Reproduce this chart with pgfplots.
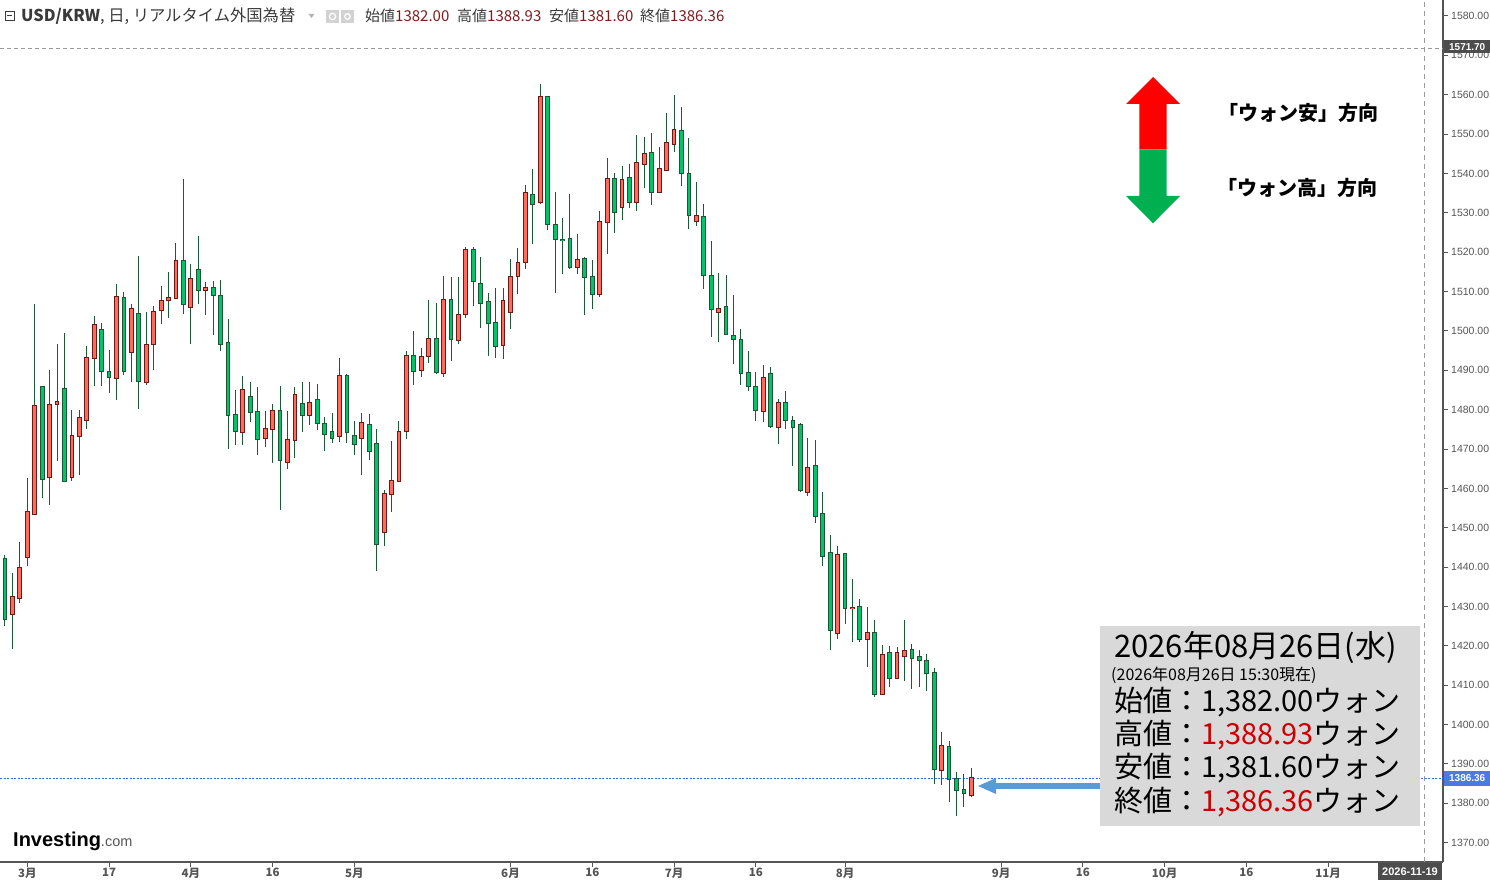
\documentclass[border=0pt]{standalone}
\usepackage{fontspec}
\setmainfont{Noto Sans CJK JP}
\newfontfamily\lib{Liberation Sans}
\usepackage{pgfplots}
\pgfplotsset{compat=1.18}
\usepackage{pgfplotstable}
\definecolor{upfill}{HTML}{FF6A5C}
\definecolor{upedge}{HTML}{6E1A14}
\definecolor{dnfill}{HTML}{00C46A}
\definecolor{dnedge}{HTML}{1E5535}
\definecolor{wick}{HTML}{1B5A34}
\definecolor{axisgray}{HTML}{555555}
\definecolor{lblgray}{HTML}{555555}
\definecolor{hdrred}{HTML}{7B1D1D}
\definecolor{hdrtxt}{HTML}{3A3A3A}
\definecolor{boxgray}{HTML}{D9D9D9}
\definecolor{arrowblue}{HTML}{5B9BD5}
\definecolor{priceblue}{HTML}{4A7BE0}
\definecolor{dashblue}{HTML}{3366FF}
\definecolor{darklbl}{HTML}{4D4D4D}
\definecolor{numred}{HTML}{CC0000}
\definecolor{arrred}{HTML}{FF0000}
\definecolor{arrgreen}{HTML}{00B050}

% trading day index i (0 = 2 Mar 2026), open, high, low, close
\pgfplotstableread{
i O H L C
-2 1428.0 1438.5 1419.1 1432.3
-1 1432.1 1446.4 1430.8 1439.9
0 1442.7 1462.6 1440.4 1453.9
1 1453.6 1506.9 1453.6 1481.0
3 1462.8 1490.2 1455.8 1481.3
4 1481.5 1496.6 1467.0 1482.0
6 1462.8 1479.8 1461.9 1473.4
7 1473.4 1479.8 1463.4 1478.0
8 1477.5 1496.1 1475.1 1493.2
9 1493.2 1503.7 1486.0 1501.6
12 1488.1 1512.0 1482.4 1508.7
14 1494.7 1506.9 1487.1 1505.6
16 1487.1 1504.9 1486.3 1496.5
17 1496.7 1506.4 1490.1 1504.9
18 1505.4 1511.5 1501.7 1507.6
19 1507.9 1515.0 1503.3 1508.4
20 1508.4 1522.4 1508.4 1517.8
22 1506.1 1517.0 1496.7 1513.2
24 1510.4 1512.5 1504.0 1510.9
29 1474.4 1488.6 1471.1 1485.1
32 1472.9 1479.7 1470.5 1475.2
33 1475.2 1481.5 1466.5 1479.7
35 1466.6 1479.7 1465.0 1472.2
36 1472.4 1485.8 1467.6 1483.8
38 1478.7 1486.9 1476.2 1481.8
42 1473.2 1493.2 1471.9 1488.6
45 1472.9 1479.2 1463.3 1476.5
48 1448.8 1459.5 1445.3 1458.7
49 1458.7 1472.0 1454.1 1462.0
50 1462.0 1477.0 1462.0 1474.4
51 1474.7 1495.0 1472.6 1493.7
53 1490.2 1495.7 1488.4 1493.4
54 1493.7 1507.9 1491.9 1498.0
56 1489.4 1514.0 1488.4 1507.9
58 1497.7 1513.7 1496.7 1504.1
59 1504.3 1521.3 1503.3 1520.6
64 1496.5 1510.9 1492.9 1507.6
65 1504.8 1518.3 1500.5 1513.7
66 1514.0 1521.1 1509.4 1517.3
67 1517.5 1537.0 1515.7 1535.0
69 1532.7 1562.7 1532.2 1559.4
74 1516.2 1524.6 1514.5 1518.0
77 1509.4 1530.5 1508.6 1527.7
78 1527.7 1543.9 1519.5 1538.6
80 1531.5 1541.9 1528.1 1538.3
82 1532.8 1549.8 1530.5 1542.7
83 1542.4 1549.3 1536.3 1544.9
85 1535.3 1546.7 1535.0 1541.1
86 1540.9 1555.3 1540.6 1547.7
87 1547.5 1559.9 1545.4 1551.0
90 1527.9 1537.8 1526.7 1529.2
93 1504.9 1514.8 1497.3 1505.6
99 1479.7 1491.4 1476.9 1488.1
101 1475.7 1482.8 1471.4 1481.8
105 1459.2 1472.7 1458.0 1465.3
109 1423.2 1445.3 1421.7 1443.0
111 1429.5 1437.1 1421.1 1429.7
113 1421.7 1430.0 1414.7 1423.2
115 1407.9 1420.1 1407.9 1417.8
117 1411.8 1419.6 1411.5 1418.1
118 1417.4 1426.5 1411.0 1418.6
123 1388.4 1398.1 1384.6 1394.5
127 1382.00 1388.93 1381.60 1386.36
}\uptable

\pgfplotstableread{
i O H L C
-3 1442.0 1443.0 1425.1 1426.7
2 1485.8 1485.8 1457.6 1462.5
5 1485.3 1499.4 1462.0 1462.0
10 1500.3 1501.9 1486.0 1489.9
11 1489.6 1495.2 1484.2 1488.4
13 1508.4 1509.9 1488.8 1489.9
15 1504.4 1519.1 1480.2 1487.4
21 1517.8 1538.6 1504.3 1506.9
23 1515.5 1524.1 1506.8 1510.4
25 1510.9 1512.7 1498.9 1509.2
26 1508.9 1513.0 1495.0 1496.7
27 1497.0 1503.1 1469.9 1478.7
28 1478.7 1485.1 1470.9 1474.7
30 1483.3 1487.0 1476.9 1479.3
31 1479.3 1485.8 1468.5 1472.6
34 1479.7 1486.1 1454.6 1467.3
37 1481.5 1487.1 1474.2 1478.7
39 1482.5 1486.6 1474.9 1476.7
40 1476.4 1478.2 1469.4 1473.9
41 1474.4 1479.2 1471.6 1472.9
43 1488.6 1489.1 1471.6 1474.2
44 1473.4 1477.2 1468.4 1471.4
46 1476.2 1478.8 1467.3 1469.6
47 1471.4 1475.2 1439.1 1445.8
52 1493.7 1500.0 1486.3 1489.9
55 1498.0 1507.1 1489.1 1489.6
57 1507.9 1513.7 1492.4 1498.0
60 1520.6 1521.3 1506.4 1512.7
61 1511.9 1518.8 1500.8 1507.1
62 1507.4 1509.7 1493.6 1502.0
63 1502.0 1510.9 1493.2 1496.2
68 1534.5 1541.1 1522.1 1532.2
70 1559.4 1559.6 1525.6 1527.2
71 1526.9 1535.3 1509.7 1523.3
72 1523.2 1528.7 1514.5 1523.0
73 1523.3 1534.8 1515.7 1516.2
75 1518.3 1518.8 1504.1 1513.7
76 1513.7 1518.0 1505.6 1509.4
79 1538.6 1540.1 1524.8 1530.2
81 1538.9 1542.4 1531.2 1532.8
84 1545.2 1550.3 1532.0 1535.3
88 1550.8 1556.9 1536.8 1540.1
89 1539.9 1549.0 1525.9 1529.5
91 1529.0 1532.3 1510.7 1514.3
92 1514.0 1522.9 1498.5 1505.6
94 1506.1 1514.2 1499.0 1499.3
95 1498.8 1509.2 1491.6 1498.0
96 1497.8 1500.5 1486.3 1489.4
97 1489.4 1495.0 1484.8 1486.1
98 1485.8 1489.6 1477.1 1480.0
100 1489.1 1490.9 1475.4 1475.9
102 1481.8 1484.8 1475.2 1477.5
103 1477.2 1478.5 1465.6 1475.7
104 1476.2 1476.7 1459.2 1459.7
106 1465.8 1472.4 1451.3 1453.1
107 1453.4 1459.0 1440.2 1442.8
108 1443.5 1448.1 1418.9 1424.0
110 1443.3 1443.3 1425.5 1429.6
112 1429.8 1431.8 1421.1 1421.7
114 1423.2 1426.5 1407.0 1407.9
116 1418.1 1419.9 1409.5 1411.8
119 1418.9 1420.6 1409.0 1416.8
120 1417.1 1418.9 1409.5 1416.3
121 1416.1 1417.9 1408.5 1413.0
122 1413.0 1414.3 1384.9 1388.7
124 1394.3 1395.8 1380.3 1386.2
125 1386.2 1387.9 1376.8 1383.4
126 1383.4 1387.4 1379.0 1382.6
}\dntable

\begin{document}
\begin{tikzpicture}
\useasboundingbox (0,0) rectangle (1490pt,879pt);
\begin{axis}[
  at={(0pt,17pt)}, anchor=south west,
  width=1443pt, height=862pt, scale only axis,
  xmin=-3.672, xmax=190.44, ymin=1365.1, ymax=1584.06,
  axis x line=bottom, axis y line=right,
  axis line style={-, draw=axisgray, line width=1.4pt},
  tick align=outside, major tick length=5pt,
  tick style={draw=axisgray, line width=1pt},
  scaled y ticks=false,
  xtick={0,11,22,33,44,65,76,87,98,110,131,142,153,164,175},
  xticklabels={3月,17,4月,16,5月,6月,16,7月,16,8月,9月,16,10月,16,11月},
  xticklabel style={font=\bfseries\fontsize{11.5}{13}\selectfont, text=lblgray, inner sep=1pt},
  ytick={1370,1380,...,1580},
  yticklabel style={anchor=west, inner sep=1pt, xshift=2pt, font=\lib\fontsize{10.5}{12}\selectfont, text=lblgray,
    /pgf/number format/.cd, fixed, fixed zerofill, precision=2, 1000 sep={}, assume math mode=true},
]
% reference lines
\addplot[draw=gray!80, line width=0.9pt, dash pattern=on 4pt off 3pt] coordinates {(-3.672,1571.7) (190.44,1571.7)};
\addplot[draw=gray!80, line width=0.9pt, dash pattern=on 5pt off 4pt] coordinates {(188,1365.1) (188,1584.06)};
\addplot[draw=dashblue, line width=0.8pt, dash pattern=on 2pt off 1.5pt] coordinates {(-3.672,1386.36) (190.44,1386.36)};
% wicks
\addplot[draw=wick, line width=1pt, quiver={u=0, v=\thisrow{H}-\thisrow{L}}] table[x=i, y=L] {\uptable};
\addplot[draw=wick, line width=1pt, quiver={u=0, v=\thisrow{H}-\thisrow{L}}] table[x=i, y=L] {\dntable};
% up bodies (red)
\addplot[draw=upedge, line width=4.8pt, quiver={u=0, v=\thisrow{C}-\thisrow{O}+0.508}] table[x=i, y expr=\thisrow{O}-0.254] {\uptable};
\addplot[draw=upfill, line width=2.8pt, quiver={u=0, v=\thisrow{C}-\thisrow{O}}] table[x=i, y=O] {\uptable};
% down bodies (green)
\addplot[draw=dnedge, line width=4.8pt, quiver={u=0, v=\thisrow{O}-\thisrow{C}+0.508}] table[x=i, y expr=\thisrow{C}-0.254] {\dntable};
\addplot[draw=dnfill, line width=2.8pt, quiver={u=0, v=\thisrow{O}-\thisrow{C}}] table[x=i, y=C] {\dntable};
\end{axis}

\begin{scope}[x=1pt, y=-1pt, yshift=879pt]
% header
\draw[hdrtxt, line width=0.8pt] (5,11) rectangle (14,20); \draw[hdrtxt, line width=0.8pt] (7,15.5) -- (12,15.5);
\node[anchor=west, inner sep=0, text=hdrtxt, font=\fontsize{16.3}{18}\selectfont] at (21,16) {\textbf{USD/KRW}, 日, リアルタイム外国為替};
\fill[gray!60] (308.5,14) -- (314.5,14) -- (311.5,18) -- cycle;
\fill[gray!35] (326,10) rectangle (339,23); \fill[gray!35] (341,10) rectangle (354,23);
\draw[white, line width=1.2pt] (332.5,16.5) circle (3.2); \draw[white, line width=1.2pt] (347.5,16.5) circle (2.8);
\node[anchor=west, inner sep=0, font=\fontsize{15}{17}\selectfont] at (365,16) {\textcolor{hdrtxt}{始値}\textcolor{hdrred}{1382.00}};
\node[anchor=west, inner sep=0, font=\fontsize{15}{17}\selectfont] at (457,16) {\textcolor{hdrtxt}{高値}\textcolor{hdrred}{1388.93}};
\node[anchor=west, inner sep=0, font=\fontsize{15}{17}\selectfont] at (549,16) {\textcolor{hdrtxt}{安値}\textcolor{hdrred}{1381.60}};
\node[anchor=west, inner sep=0, font=\fontsize{15}{17}\selectfont] at (640,16) {\textcolor{hdrtxt}{終値}\textcolor{hdrred}{1386.36}};
% axis value boxes
\node[fill=darklbl, text=white, font=\lib\bfseries\fontsize{10}{11}\selectfont, anchor=west, inner sep=0, minimum width=46pt, minimum height=13pt] at (1444,47) {1571.70};
\node[fill=priceblue, text=white, font=\lib\bfseries\fontsize{10}{11}\selectfont, anchor=west, inner sep=0, minimum width=46pt, minimum height=15pt] at (1444,778.5) {1386.36};
\node[fill=darklbl, text=white, font=\lib\bfseries\fontsize{11}{12}\selectfont, anchor=north, inner sep=0, minimum width=64pt, minimum height=17pt] at (1410,862.8) {2026-11-19};
% up/down arrow
\fill[arrred] (1153,77) -- (1180,104) -- (1166.7,104) -- (1166.7,149.5) -- (1139.3,149.5) -- (1139.3,104) -- (1126,104) -- cycle;
\fill[arrgreen] (1139.3,149.3) -- (1166.7,149.3) -- (1166.7,196) -- (1180,196) -- (1153,223.3) -- (1126,196) -- (1139.3,196) -- cycle;
\node[font=\bfseries\fontsize{20}{24}\selectfont, text=black] at (1298,113) {「ウォン安」方向};
\node[font=\bfseries\fontsize{20}{24}\selectfont, text=black] at (1297,188) {「ウォン高」方向};
% info box
\fill[boxgray] (1100,626) rectangle (1420,826);
\node[anchor=west, inner sep=0, text=black, font=\fontsize{31}{34}\selectfont] at (1114,647) {2026年08月26日(水)};
\node[anchor=west, inner sep=0, text=black, font=\fontsize{16}{18}\selectfont] at (1111,675) {(2026年08月26日 15:30現在)};
\node[anchor=west, inner sep=0, text=black, font=\fontsize{29}{32}\selectfont] at (1114,702) {始値：1,382.00ウォン};
\node[anchor=west, inner sep=0, text=black, font=\fontsize{29}{32}\selectfont] at (1114,735.5) {高値：\textcolor{numred}{1,388.93}ウォン};
\node[anchor=west, inner sep=0, text=black, font=\fontsize{29}{32}\selectfont] at (1114,768.5) {安値：1,381.60ウォン};
\node[anchor=west, inner sep=0, text=black, font=\fontsize{29}{32}\selectfont] at (1114,802) {終値：\textcolor{numred}{1,386.36}ウォン};
% pointer arrow
\fill[arrowblue] (995,783) rectangle (1100,789);
\fill[arrowblue] (978,786) -- (996,778) -- (996,794) -- cycle;
% logo
\node[anchor=base west, inner sep=0] at (13,846) {{\lib\bfseries\fontsize{20}{22}\selectfont Investing}{\lib\fontsize{14.5}{16}\selectfont\color{lblgray}.com}};
\end{scope}
\end{tikzpicture}
\end{document}
